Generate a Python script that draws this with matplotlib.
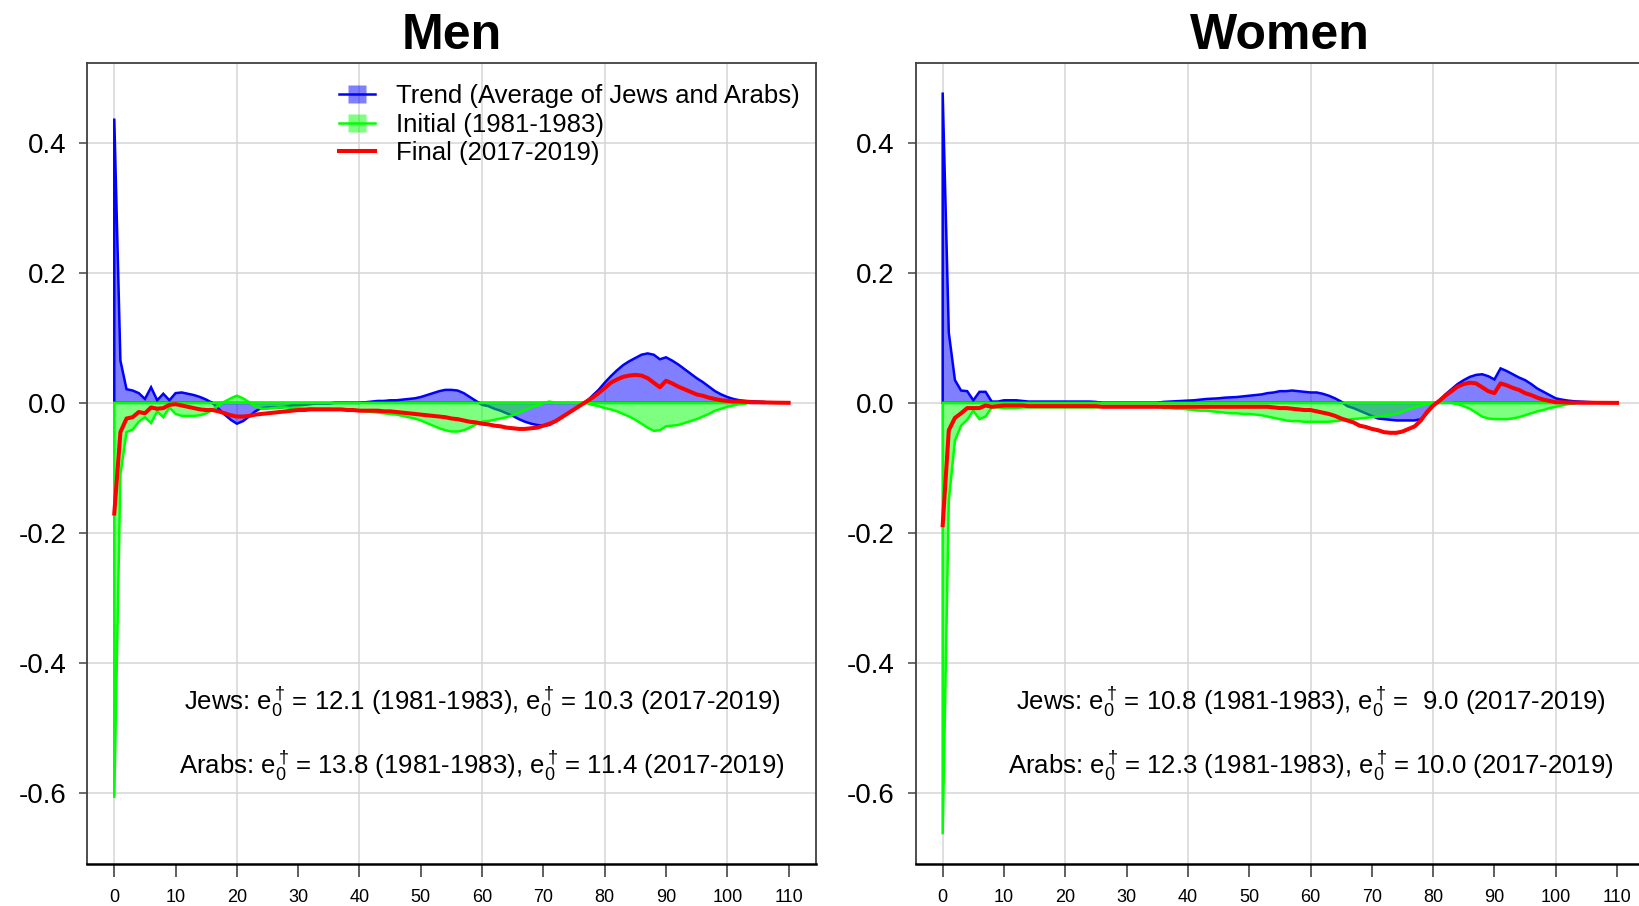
import matplotlib
matplotlib.use('Agg')
import matplotlib.pyplot as plt
from matplotlib.lines import Line2D

plt.rcParams['font.family'] = ['Liberation Sans', 'DejaVu Sans']
plt.rcParams['mathtext.fontset'] = 'custom'
plt.rcParams['mathtext.rm'] = 'Liberation Sans'
plt.rcParams['mathtext.it'] = 'Liberation Sans:italic'
plt.rcParams['mathtext.bf'] = 'Liberation Sans:bold'

# ---------------- data ----------------
ages = list(range(111))

x_ticks = list(range(0, 111, 10))
y_ticks = [-0.6, -0.4, -0.2, 0.0, 0.2, 0.4]
y_tick_labels = ['-0.6', '-0.4', '-0.2', '0.0', '0.2', '0.4']

legend_labels = ['Trend (Average of Jews and Arabs)', 'Initial (1981-1983)', 'Final (2017-2019)']

# Men: ages 0..106 (trend), 0..103 (initial), 0..110 (final)
men_trend = [
    0.437, 0.065, 0.021, 0.019, 0.015, 0.006, 0.024, 0.004, 0.014, 0.004,
    0.015, 0.016, 0.014, 0.012, 0.009, 0.005, 0.000, -0.009, -0.018, -0.026,
    -0.032, -0.028, -0.021, -0.013, -0.008, -0.007, -0.007, -0.007, -0.006, -0.004,
    -0.004, -0.003, -0.002, -0.001, -0.001, -0.001, 0.000, 0.000, 0.000, 0.000,
    0.000, 0.001, 0.002, 0.003, 0.003, 0.004, 0.004, 0.005, 0.006, 0.007,
    0.009, 0.012, 0.015, 0.018, 0.020, 0.020, 0.019, 0.015, 0.009, 0.003,
    -0.003, -0.005, -0.009, -0.012, -0.016, -0.020, -0.025, -0.029, -0.032, -0.034,
    -0.035, -0.034, -0.028, -0.022, -0.016, -0.010, -0.004, 0.002, 0.011, 0.020,
    0.031, 0.041, 0.050, 0.058, 0.064, 0.069, 0.074, 0.076, 0.074, 0.067,
    0.070, 0.065, 0.059, 0.052, 0.045, 0.038, 0.032, 0.025, 0.018, 0.013,
    0.009, 0.006, 0.004, 0.003, 0.0025, 0.002, 0.0015,
]
men_initial = [
    -0.607, -0.110, -0.045, -0.041, -0.029, -0.022, -0.031, -0.013, -0.022, -0.007,
    -0.017, -0.020, -0.020, -0.020, -0.019, -0.016, -0.011, -0.004, 0.002, 0.007,
    0.011, 0.007, 0.001, -0.005, -0.009, -0.009, -0.008, -0.007, -0.007, -0.008,
    -0.007, -0.008, -0.008, -0.009, -0.009, -0.009, -0.010, -0.010, -0.011, -0.011,
    -0.012, -0.013, -0.014, -0.015, -0.016, -0.017, -0.018, -0.020, -0.022, -0.024,
    -0.027, -0.031, -0.035, -0.039, -0.042, -0.044, -0.044, -0.042, -0.038, -0.033,
    -0.029, -0.028, -0.026, -0.024, -0.022, -0.019, -0.015, -0.011, -0.007, -0.004,
    0.000, 0.002, 0.000, 0.000, 0.000, 0.000, 0.000, 0.000, -0.003, -0.005,
    -0.008, -0.010, -0.013, -0.017, -0.021, -0.026, -0.032, -0.038, -0.043, -0.042,
    -0.036, -0.035, -0.034, -0.031, -0.028, -0.025, -0.021, -0.017, -0.012, -0.009,
    -0.006, -0.004, -0.002, -0.001,
]
men_final = [
    -0.170, -0.045, -0.024, -0.022, -0.014, -0.016, -0.007, -0.009, -0.008, -0.003,
    -0.002, -0.004, -0.006, -0.008, -0.010, -0.011, -0.011, -0.013, -0.016, -0.019,
    -0.021, -0.021, -0.020, -0.018, -0.017, -0.016, -0.015, -0.014, -0.013, -0.012,
    -0.011, -0.011, -0.010, -0.010, -0.010, -0.010, -0.010, -0.010, -0.011, -0.011,
    -0.012, -0.012, -0.012, -0.012, -0.013, -0.013, -0.014, -0.015, -0.016, -0.017,
    -0.018, -0.019, -0.020, -0.021, -0.022, -0.024, -0.025, -0.027, -0.029, -0.030,
    -0.032, -0.033, -0.035, -0.036, -0.038, -0.039, -0.040, -0.040, -0.039, -0.038,
    -0.035, -0.032, -0.028, -0.022, -0.016, -0.010, -0.004, 0.002, 0.008, 0.015,
    0.023, 0.031, 0.036, 0.040, 0.042, 0.043, 0.042, 0.038, 0.031, 0.024,
    0.034, 0.030, 0.025, 0.021, 0.017, 0.013, 0.011, 0.008, 0.006, 0.004,
    0.003, 0.002, 0.002, 0.0015, 0.001, 0.001, 0.0007, 0.0005, 0.0003, 0.0002,
    0.0001,
]

# Women
women_trend = [
    0.477, 0.108, 0.035, 0.019, 0.018, 0.004, 0.017, 0.017, 0.002, 0.002,
    0.004, 0.004, 0.004, 0.003, 0.002, 0.002, 0.002, 0.002, 0.002, 0.002,
    0.002, 0.002, 0.002, 0.002, 0.002, 0.0015, 0.000, 0.000, 0.000, 0.000,
    0.000, 0.000, 0.000, 0.000, 0.000, 0.000, 0.0015, 0.002, 0.0025, 0.003,
    0.0035, 0.004, 0.005, 0.006, 0.0065, 0.007, 0.008, 0.0085, 0.009, 0.010,
    0.011, 0.012, 0.013, 0.015, 0.016, 0.018, 0.018, 0.019, 0.018, 0.017,
    0.016, 0.016, 0.014, 0.011, 0.007, 0.002, -0.005, -0.008, -0.012, -0.016,
    -0.020, -0.024, -0.025, -0.026, -0.027, -0.027, -0.027, -0.027, -0.025, -0.016,
    -0.005, 0.004, 0.013, 0.021, 0.029, 0.035, 0.040, 0.043, 0.044, 0.041,
    0.036, 0.053, 0.049, 0.044, 0.039, 0.035, 0.029, 0.022, 0.017, 0.012,
    0.007, 0.005, 0.0035, 0.0025, 0.002, 0.0015, 0.001,
]
women_initial = [
    -0.663, -0.150, -0.058, -0.035, -0.026, -0.012, -0.025, -0.021, -0.007, -0.007,
    -0.008, -0.008, -0.008, -0.007, -0.007, -0.007, -0.007, -0.007, -0.007, -0.007,
    -0.007, -0.007, -0.007, -0.007, -0.007, -0.007, -0.006, -0.006, -0.006, -0.006,
    -0.006, -0.006, -0.006, -0.006, -0.006, -0.006, -0.008, -0.008, -0.009, -0.009,
    -0.010, -0.011, -0.012, -0.012, -0.013, -0.014, -0.015, -0.016, -0.016, -0.017,
    -0.017, -0.018, -0.019, -0.021, -0.023, -0.025, -0.027, -0.028, -0.028, -0.029,
    -0.029, -0.029, -0.029, -0.029, -0.028, -0.027, -0.026, -0.025, -0.024, -0.023,
    -0.022, -0.021, -0.020, -0.019, -0.017, -0.014, -0.010, -0.007, -0.004, -0.002,
    0.000, 0.000, 0.000, 0.000, -0.002, -0.005, -0.009, -0.015, -0.021, -0.024,
    -0.025, -0.025, -0.025, -0.024, -0.022, -0.019, -0.016, -0.013, -0.011, -0.008,
    -0.006, -0.004, -0.002, -0.001,
]
women_final = [
    -0.188, -0.042, -0.023, -0.016, -0.008, -0.008, -0.008, -0.004, -0.006, -0.005,
    -0.004, -0.004, -0.004, -0.004, -0.005, -0.005, -0.005, -0.005, -0.005, -0.005,
    -0.005, -0.005, -0.005, -0.005, -0.005, -0.005, -0.006, -0.006, -0.006, -0.006,
    -0.006, -0.006, -0.006, -0.006, -0.006, -0.006, -0.006, -0.006, -0.006, -0.006,
    -0.006, -0.006, -0.006, -0.006, -0.006, -0.006, -0.006, -0.006, -0.006, -0.006,
    -0.006, -0.006, -0.006, -0.006, -0.007, -0.008, -0.008, -0.009, -0.010, -0.011,
    -0.011, -0.013, -0.015, -0.017, -0.020, -0.024, -0.027, -0.030, -0.035, -0.037,
    -0.040, -0.042, -0.045, -0.046, -0.046, -0.044, -0.040, -0.036, -0.027, -0.014,
    -0.004, 0.003, 0.011, 0.018, 0.025, 0.029, 0.031, 0.030, 0.024, 0.018,
    0.015, 0.030, 0.027, 0.023, 0.020, 0.015, 0.012, 0.008, 0.005, 0.003,
    0.001, 0.001, 0.0005, 0.0003, 0.0003, 0.0002, 0.0002, 0.0001, 0.0001, 0.0,
    0.0,
]

E0 = r'$\mathregular{e_0^\dagger}\,$'
men_notes = [
    'Jews: ' + E0 + '= 12.1 (1981-1983), ' + E0 + '= 10.3 (2017-2019)',
    'Arabs: ' + E0 + '= 13.8 (1981-1983), ' + E0 + '= 11.4 (2017-2019)',
]
women_notes = [
    'Jews: ' + E0 + '= 10.8 (1981-1983), ' + E0 + '=  9.0 (2017-2019)',
    'Arabs: ' + E0 + '= 12.3 (1981-1983), ' + E0 + '= 10.0 (2017-2019)',
]
note_y = [-0.460, -0.558]
note_x = 60

# ---------------- style ----------------
BLUE = (0, 0, 1)
GREEN = (0, 1, 0)
RED = (1, 0, 0)
BLUE_FILL = (0, 0, 1, 0.5)
GREEN_FILL = (0, 1, 0, 0.5)
GRID = '#D6D6D6'

fig = plt.figure(figsize=(16.4, 9.06), dpi=100)
fig.patch.set_facecolor('white')

W, H = 1640.0, 906.0
ax_w = (815.6 - 87.3) / W
ax_b = (H - 864.0) / H
ax_h = (864.0 - 62.8) / H
ax_men = fig.add_axes([87.3 / W, ax_b, ax_w, ax_h])
ax_women = fig.add_axes([915.7 / W, ax_b, ax_w, ax_h])


def polygon(ax, vals, face, edge):
    n = len(vals)
    xs = [ages[0]] + ages[:n] + [ages[n - 1]]
    ys = [0.0] + list(vals) + [0.0]
    ax.fill(xs, ys, facecolor=face, edgecolor=edge, linewidth=1.8, zorder=3)


def panel(ax, title, trend, initial, final, notes):
    ax.set_xlim(-4.4, 114.4)
    ax.set_ylim(-0.7086, 0.5226)
    for gx in range(0, 101, 20):
        ax.axvline(gx, color=GRID, lw=1.1, zorder=0)
    for gy in y_ticks:
        ax.axhline(gy, color=GRID, lw=1.1, zorder=0)

    polygon(ax, trend, BLUE_FILL, BLUE)
    polygon(ax, initial, GREEN_FILL, GREEN)
    ax.plot(ages[:len(final)], final, color=RED, lw=2.9, zorder=5,
            solid_joinstyle='round')

    ax.set_xticks(x_ticks)
    ax.set_xticklabels([str(t) for t in x_ticks], fontsize=13)
    ax.set_yticks(y_ticks)
    ax.set_yticklabels(y_tick_labels, fontsize=20)
    ax.tick_params(axis='x', direction='out', length=9, width=1.2,
                   color='#444444', pad=9)
    ax.tick_params(axis='y', direction='out', length=6, width=1.2,
                   color='#555555', pad=9)
    for s in ax.spines.values():
        s.set_color('#404040')
        s.set_linewidth(1.3)
    ax.spines['bottom'].set_color('black')
    ax.spines['bottom'].set_linewidth(1.8)

    ax.text(0.5, 1.034, title, transform=ax.transAxes, ha='center',
            va='center', fontsize=36, fontweight='bold')
    for yy, txt in zip(note_y, notes):
        ax.text(note_x, yy, txt, ha='center', va='center', fontsize=18.5)


panel(ax_men, 'Men', men_trend, men_initial, men_final, men_notes)
panel(ax_women, 'Women', women_trend, women_initial, women_final, women_notes)

handles = [
    Line2D([0], [0], color=BLUE, lw=1.8, marker='s', markersize=13,
           markerfacecolor=BLUE_FILL, markeredgecolor='none'),
    Line2D([0], [0], color=GREEN, lw=1.8, marker='s', markersize=13,
           markerfacecolor=GREEN_FILL, markeredgecolor='none'),
    Line2D([0], [0], color=RED, lw=2.9),
]
ax_men.legend(handles, legend_labels, loc='upper left',
              bbox_to_anchor=(0.346, 0.973), frameon=False, fontsize=18.5,
              handlelength=1.4, handletextpad=0.8, labelspacing=0.17,
              borderpad=0, borderaxespad=0, numpoints=1)

fig.savefig('out.png', dpi=100, facecolor='white')
